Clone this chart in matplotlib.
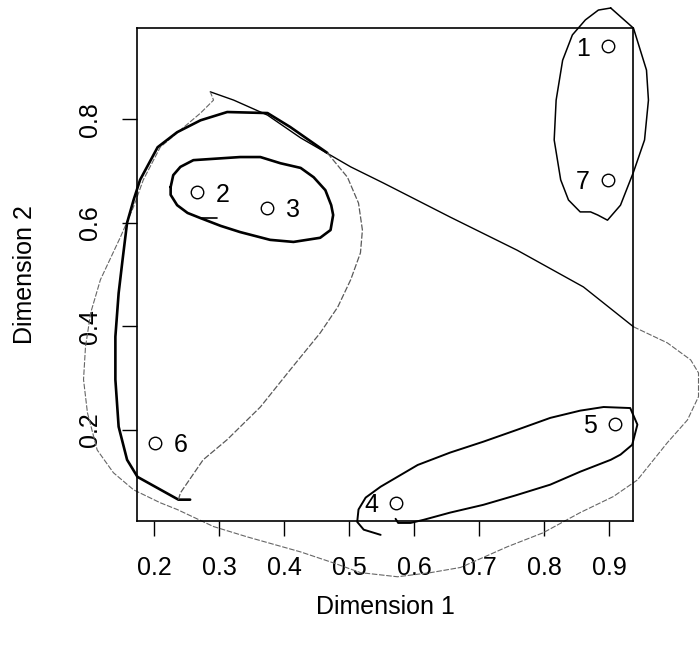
import matplotlib
matplotlib.use("Agg")
import matplotlib.pyplot as plt
import numpy as np

plt.rcParams['font.family'] = ['Liberation Sans', 'DejaVu Sans']

# object coordinates in the 2-d configuration
labels = ["1", "2", "3", "4", "5", "6", "7"]
dim1 = [0.898, 0.266, 0.374, 0.572, 0.908, 0.2015, 0.898]
dim2 = [0.941, 0.659, 0.629, 0.059, 0.212, 0.175, 0.683]
label_side = ["left", "right", "right", "left", "left", "right", "left"]

xticks = [0.2, 0.3, 0.4, 0.5, 0.6, 0.7, 0.8, 0.9]
yticks = [0.2, 0.4, 0.6, 0.8]

# hand drawn cluster outlines (traced, in data units)
clus17_x = [0.902, 0.937, 0.957, 0.960, 0.954, 0.937, 0.917, 0.897, 0.882, 0.871, 0.855,
            0.837, 0.825, 0.815, 0.818, 0.828, 0.843, 0.863, 0.883, 0.902]
clus17_y = [1.015, 0.976, 0.895, 0.837, 0.760, 0.698, 0.634, 0.605, 0.615, 0.621, 0.621,
            0.644, 0.683, 0.760, 0.837, 0.914, 0.963, 0.992, 1.011, 1.015]

clus23_x = [0.225, 0.229, 0.240, 0.260, 0.332, 0.363, 0.394, 0.425, 0.445, 0.463, 0.472,
            0.475, 0.471, 0.455, 0.414, 0.378, 0.332, 0.302, 0.271, 0.251, 0.235, 0.225, 0.225]
clus23_y = [0.669, 0.692, 0.708, 0.721, 0.727, 0.727, 0.715, 0.706, 0.688, 0.663, 0.634,
            0.615, 0.586, 0.571, 0.563, 0.567, 0.582, 0.594, 0.609, 0.619, 0.634, 0.654, 0.669]
tail23_x = [0.271, 0.297]
tail23_y = [0.609, 0.609]

clus45_x = [0.548, 0.522, 0.512, 0.514, 0.525, 0.548, 0.605, 0.655, 0.706, 0.758, 0.809,
            0.855, 0.891, 0.932, 0.943, 0.935, 0.917, 0.902, 0.855, 0.809, 0.755, 0.706,
            0.655, 0.614, 0.594, 0.575, 0.571]
clus45_y = [-0.003, 0.007, 0.022, 0.046, 0.069, 0.090, 0.132, 0.156, 0.177, 0.200, 0.223,
            0.237, 0.244, 0.242, 0.210, 0.171, 0.152, 0.142, 0.119, 0.094, 0.073, 0.055,
            0.040, 0.026, 0.020, 0.020, 0.028]

big_solid_x = [0.286, 0.322, 0.374, 0.425, 0.502, 0.552, 0.655, 0.758, 0.860, 0.937]
big_solid_y = [0.853, 0.837, 0.808, 0.764, 0.708, 0.677, 0.611, 0.547, 0.476, 0.399]
big_dash_x = [0.937, 0.989, 1.025, 1.037, 1.037, 1.020, 0.989, 0.943, 0.906, 0.855, 0.798,
              0.743, 0.671, 0.625, 0.574, 0.517, 0.475, 0.425, 0.343, 0.291, 0.235, 0.209,
              0.168, 0.137, 0.112, 0.097, 0.091, 0.094, 0.102, 0.117, 0.148, 0.168, 0.183,
              0.209, 0.240, 0.271, 0.291, 0.286]
big_dash_y = [0.399, 0.368, 0.335, 0.310, 0.264, 0.219, 0.175, 0.103, 0.071, 0.040, 0.001,
              -0.026, -0.066, -0.076, -0.084, -0.076, -0.057, -0.036, -0.007, 0.013, 0.046,
              0.059, 0.084, 0.117, 0.161, 0.233, 0.297, 0.360, 0.426, 0.490, 0.573, 0.631,
              0.683, 0.746, 0.779, 0.812, 0.837, 0.853]

clus236_solid_x = [0.255, 0.237, 0.174, 0.158, 0.145, 0.140, 0.140, 0.145, 0.151, 0.158,
                   0.168, 0.178, 0.205, 0.235, 0.271, 0.312, 0.374, 0.409, 0.466]
clus236_solid_y = [0.065, 0.065, 0.109, 0.142, 0.206, 0.297, 0.380, 0.464, 0.528, 0.600,
                   0.644, 0.683, 0.746, 0.775, 0.798, 0.814, 0.812, 0.785, 0.735]
clus236_dash_x = [0.466, 0.497, 0.514, 0.520, 0.517, 0.502, 0.482, 0.455, 0.409, 0.363,
                  0.312, 0.275, 0.240, 0.237]
clus236_dash_y = [0.735, 0.688, 0.638, 0.586, 0.542, 0.490, 0.437, 0.387, 0.316, 0.244,
                  0.181, 0.142, 0.078, 0.065]

fig = plt.figure(figsize=(7, 6.49), dpi=100)
ax = fig.add_axes([0.1957, 0.1972, 0.7086, 0.7596])

ax.plot(dim1, dim2, 'o', ms=9, mfc='none', mec='black', mew=1.0, zorder=3)
for lab, x, y, side in zip(labels, dim1, dim2, label_side):
    dx = 13 if side == "right" else -13
    ax.annotate(lab, (x, y), xytext=(dx, 0), textcoords='offset points',
                ha='left' if side == "right" else 'right', va='center_baseline',
                fontsize=18)

line_kw = dict(clip_on=False, solid_joinstyle='round', solid_capstyle='round')
ax.plot(clus17_x, clus17_y, color='black', lw=1.1, **line_kw)
ax.plot(clus23_x, clus23_y, color='black', lw=1.9, **line_kw)
ax.plot(tail23_x, tail23_y, color='black', lw=1.2, **line_kw)
ax.plot(clus45_x, clus45_y, color='black', lw=1.4, **line_kw)
ax.plot(big_solid_x, big_solid_y, color='black', lw=1.0, **line_kw)
ax.plot(big_dash_x, big_dash_y, color='0.4', lw=0.8, ls=(0, (5, 1.5)), clip_on=False)
ax.plot(clus236_solid_x, clus236_solid_y, color='black', lw=1.9, **line_kw)
ax.plot(clus236_dash_x, clus236_dash_y, color='0.35', lw=0.9, ls=(0, (5, 1.5)), clip_on=False)

# R style 4% padding around the points
xr = max(dim1) - min(dim1)
yr = max(dim2) - min(dim2)
ax.set_xlim(min(dim1) - 0.04 * xr, max(dim1) + 0.04 * xr)
ax.set_ylim(min(dim2) - 0.04 * yr, max(dim2) + 0.04 * yr)

ax.set_xticks(xticks)
ax.set_xticklabels([f"{t:.1f}" for t in xticks], fontsize=18)
ax.set_yticks(yticks)
ax.set_yticklabels([f"{t:.1f}" for t in yticks], fontsize=18, rotation=90, va='center')
ax.tick_params(direction='out', length=11, width=1.0, pad=14)
for s in ax.spines.values():
    s.set_linewidth(1.2)

fig.text(385 / 700, 1 - 607 / 649, "Dimension 1", ha='center', va='center', fontsize=18)
fig.text(25 / 700, 1 - 275 / 649, "Dimension 2", ha='center', va='center', fontsize=18,
         rotation=90)

fig.savefig("out.png", dpi=100)
